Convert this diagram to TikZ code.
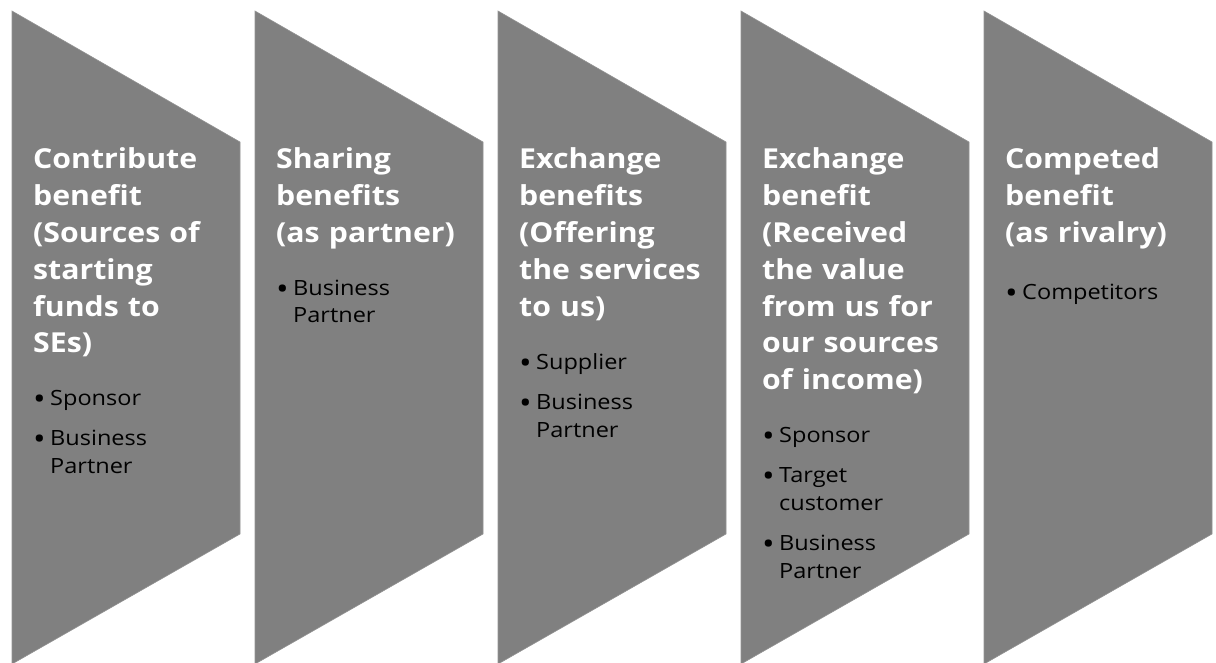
\documentclass[tikz,border=0pt]{standalone}
\usepackage{fontspec}
\setmainfont{Open Sans}
\newfontfamily\titlefont[FakeStretch=1.1]{Open Sans}
\newfontfamily\itemfont[FakeStretch=1.12]{Open Sans}
\definecolor{chev}{HTML}{808080}
\newcommand\bitem[1]{\hangindent=17pt\hangafter=1\noindent\hbox to 17pt{{\fontsize{30}{28}\selectfont\raisebox{-4.5pt}{•}}\hss}#1\par}
\tikzset{
  chevron/.style={fill=chev, draw=chev!85!white, line width=0.6pt},
  title/.style={anchor=base west, inner sep=0pt, text width=215pt, align=left, text=white,
    font=\titlefont\bfseries\fontsize{27.5}{36.8}\selectfont},
  items/.style={anchor=base west, inner sep=0pt, text width=200pt, text=black,
    font=\itemfont\fontsize{21}{28}\selectfont\setlength\parskip{12pt}\raggedright},
}
\begin{document}
\begin{tikzpicture}[x=1pt,y=-1pt]
\useasboundingbox (0,0) rectangle (1216,663);
\foreach \L in {12,255,498,741,984}{
  \path[chevron] (\L,11) -- (\L+228,142) -- (\L+228,534) -- (\L,664) -- cycle;
}
\node[title] (t1) at (33,169) {Contribute\\benefit\\(Sources of\\starting\\funds to\\SEs)};
\node[items] (b1) at (33,405) {\bitem{Sponsor}\bitem{Business\newline Partner}};
\node[title] (t2) at (276,169) {Sharing\\benefits\\(as partner)};
\node[items] (b2) at (276,295) {\bitem{Business\newline Partner}};
\node[title] (t3) at (519,169) {Exchange\\benefits\\(Offering\\the services\\to us)};
\node[items] (b3) at (519,369) {\bitem{Supplier}\bitem{Business\newline Partner}};
\node[title] (t4) at (762,169) {Exchange\\benefit\\(Received\\the value\\from us for\\our sources\\of income)};
\node[items] (b4) at (762,442) {\bitem{Sponsor}\bitem{Target\newline customer}\bitem{Business\newline Partner}};
\node[title] (t5) at (1005,169) {Competed\\benefit\\(as rivalry)};
\node[items] (b5) at (1005,299) {\bitem{Competitors}};
\end{tikzpicture}
\end{document}
